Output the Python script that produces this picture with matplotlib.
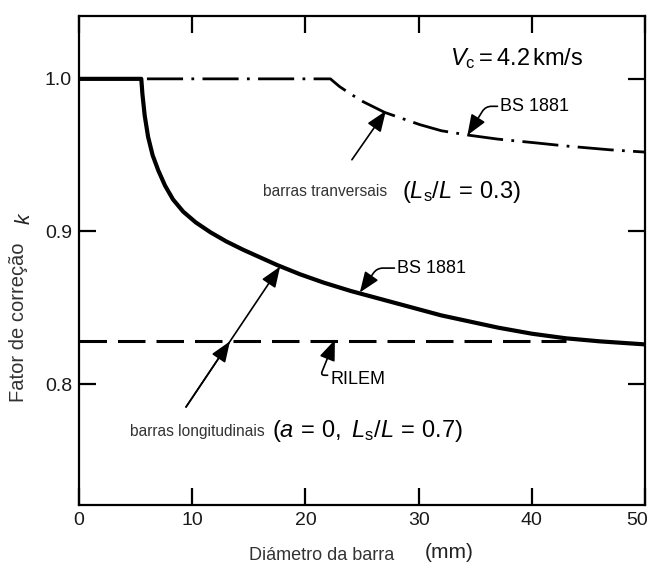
import matplotlib
matplotlib.use("Agg")
import matplotlib.pyplot as plt
import matplotlib.transforms as mtransforms

plt.rcParams['font.family'] = ['Liberation Sans', 'DejaVu Sans']
plt.rcParams['mathtext.fontset'] = 'custom'
plt.rcParams['mathtext.rm'] = 'Liberation Sans'
plt.rcParams['mathtext.it'] = 'Liberation Sans:italic'

# BS 1881, barras longitudinais (a = 0, Ls/L = 0.7)
diam_long = [0, 5.5, 5.6, 5.8, 6.1, 6.5, 7.0, 7.6, 8.3, 9.2, 10.3, 11.6, 13.0, 14.5, 16.0,
             17.5, 19.5, 21.6, 24, 26, 28, 30, 32, 34.5, 37, 40, 43, 46, 50]
k_long = [1.0, 1.0, 0.990, 0.976, 0.962, 0.950, 0.940, 0.930, 0.921, 0.913, 0.906, 0.8995,
          0.8935, 0.888, 0.883, 0.878, 0.872, 0.8665, 0.861, 0.857, 0.853, 0.849, 0.845,
          0.841, 0.837, 0.833, 0.830, 0.828, 0.826]

# BS 1881, barras tranversais (Ls/L = 0.3)
diam_trans = [6.0, 22.2, 23, 24, 25.1, 27, 30.1, 32, 34.5, 37, 40.4, 43, 46.9, 50]
k_trans = [1.0, 1.0, 0.995, 0.990, 0.985, 0.978, 0.970, 0.966, 0.963, 0.9605, 0.958,
           0.956, 0.9535, 0.952]

# RILEM
diam_rilem = [0, 43]
k_rilem = [0.828, 0.828]

x_ticks = [0, 10, 20, 30, 40, 50]
y_ticks = [0.8, 0.9, 1.0]
y_ticklabels = ['0.8', '0.9', '1.0']

fig = plt.figure(figsize=(6.53, 5.65), dpi=100)
ax = fig.add_axes([0.121, 0.106, 0.867, 0.866])

ax.plot(diam_long, k_long, color='black', lw=3.0, solid_joinstyle='round')
ax.plot(diam_trans, k_trans, color='black', lw=2.0, linestyle=(0, (13, 3, 1, 3)))
ax.plot(diam_rilem, k_rilem, color='black', lw=2.2, linestyle=(0, (9, 3.6)))

ax.set_xlim(0, 50)
ax.set_ylim(0.7207, 1.0413)
ax.set_xticks(x_ticks)
ax.set_yticks(y_ticks)
ax.set_yticklabels(y_ticklabels)
ax.tick_params(direction='in', length=12, width=1.6, labelsize=14, pad=5,
               top=True, right=True, labelcolor='#1a1a1a')
ax.tick_params(axis='x', labeltop=False)
for s in ax.spines.values():
    s.set_linewidth(1.6)

# keep the "50" inside the picture
last = ax.get_xticklabels()[-1]
last.set_transform(last.get_transform() + mtransforms.ScaledTranslation(-6 / 72, 0, fig.dpi_scale_trans))

# axis labels
fig.text(19 / 653, 1 - 322 / 565, 'Fator de correção', rotation=90, ha='center', va='center',
         fontsize=14.5, color='#333333')
fig.text(25 / 653, 1 - 218 / 565, '$k$', rotation=90, ha='center', va='center',
         fontsize=15, color='#222222')
fig.text(322 / 653, 1 - 556 / 565, 'Diámetro da barra', ha='center', va='center',
         fontsize=13, color='#333333')
fig.text(449 / 653, 1 - 553 / 565, '(mm)', ha='center', va='center', fontsize=15,
         color='#222222')

# annotations
ax.text(32.8, 1.009, r'$V_\mathrm{c} = 4.2\,\mathrm{km/s}$', fontsize=17, va='baseline')

ax.text(16.25, 0.926, 'barras tranversais', fontsize=11.2, va='center', color='#333333')
ax.text(28.5, 0.926, r'$(L_\mathrm{s}/L\,=\,0.3)$', fontsize=17, va='center')
ax.text(4.5, 0.769, 'barras longitudinais', fontsize=11.2, va='center', color='#333333')
ax.text(17.05, 0.769, r'$(a\,=\,0,\ L_\mathrm{s}/L\,=\,0.7)$', fontsize=17, va='center')

arrow_head = dict(arrowstyle='-|>,head_length=0.9,head_width=0.35', color='black',
                  lw=1.2, mutation_scale=14, shrinkA=0, shrinkB=0)

ax.annotate('BS 1881', xy=(34.3, 0.963), xytext=(37.2, 0.982), fontsize=13, va='center',
            arrowprops=dict(arrow_head, relpos=(0, 0.5),
                            connectionstyle='angle,angleA=180,angleB=58,rad=6'))
ax.annotate('BS 1881', xy=(24.8, 0.860), xytext=(28.1, 0.876), fontsize=13, va='center',
            arrowprops=dict(arrow_head, relpos=(0, 0.5),
                            connectionstyle='angle,angleA=180,angleB=55,rad=6'))
ax.annotate('RILEM', xy=(22.6, 0.829), xytext=(22.2, 0.803), fontsize=13, va='center',
            arrowprops=dict(arrow_head, relpos=(0, 0.75),
                            connectionstyle='angle,angleA=180,angleB=-112,rad=4'))

ax.annotate('', xy=(27.1, 0.979), xytext=(24.1, 0.947), arrowprops=arrow_head)
ax.annotate('', xy=(17.76, 0.877), xytext=(9.45, 0.785), arrowprops=arrow_head)
ax.annotate('', xy=(13.33, 0.828), xytext=(9.45, 0.785), arrowprops=arrow_head)

fig.savefig('out.png', dpi=100)
